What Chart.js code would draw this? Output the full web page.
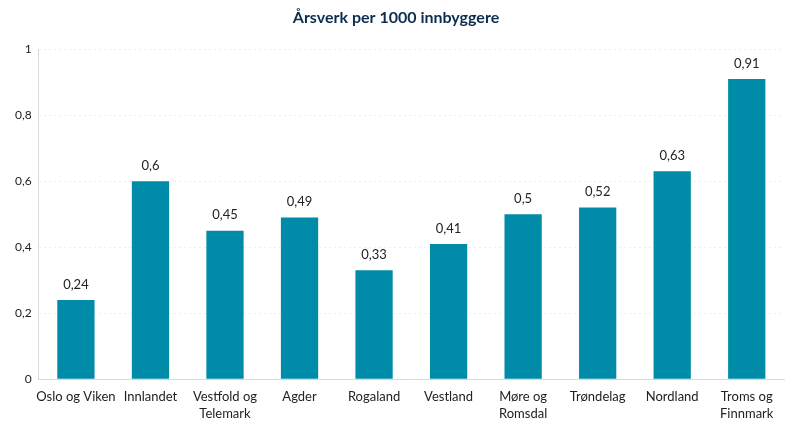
<!DOCTYPE html>
<html>
<head>
<meta charset="utf-8">
<script src="https://cdn.jsdelivr.net/npm/chart.js@4"></script>
<style>
  html, body { margin: 0; padding: 0; background: #fff; }
  #wrap { width: 800px; height: 428px; }
</style>
</head>
<body>
<div id="wrap"><canvas id="chart"></canvas></div>
<script>
// regioner og årsverk per 1000 innbyggere
const regioner = [
    "Oslo og Viken", "Innlandet", ["Vestfold og", "Telemark"], "Agder", "Rogaland",
    "Vestland", ["Møre og", "Romsdal"], "Trøndelag", "Nordland", ["Troms og", "Finnmark"]
];
const aarsverk = [0.24, 0.6, 0.45, 0.49, 0.33, 0.41, 0.5, 0.52, 0.63, 0.91];
const yTicks = [0, 0.2, 0.4, 0.6, 0.8, 1];

const komma = v => String(v).replace(".", ",");
const skrift = "Lato";

// verdier over søylene
const verdiEtiketter = {
    id: "verdiEtiketter",
    afterDatasetsDraw(chart) {
        const ctx = chart.ctx;
        const meta = chart.getDatasetMeta(0);
        ctx.save();
        ctx.font = "13px " + skrift;
        ctx.fillStyle = "#222";
        ctx.textAlign = "center";
        ctx.textBaseline = "bottom";
        meta.data.forEach((bar, i) => {
            ctx.fillText(komma(aarsverk[i]), bar.x, bar.y - 9);
        });
        ctx.restore();
    }
};

new Chart(document.querySelector("#chart"), {
    type: "bar",
    data: {
        labels: regioner,
        datasets: [{
            label: "Årsverk",
            data: aarsverk,
            backgroundColor: "#008ca8",
            categoryPercentage: 1,
            barPercentage: 0.5
        }]
    },
    options: {
        responsive: true,
        maintainAspectRatio: false,
        animation: false,
        layout: { padding: { left: 8, right: 16, top: 6, bottom: 5 } },
        plugins: {
            legend: { display: false },
            tooltip: { enabled: false },
            title: {
                display: true,
                text: "Årsverk per 1000 innbyggere",
                color: "#0d2d4f",
                font: { family: skrift, size: 16, weight: "bold" },
                padding: { top: 2, bottom: 22 }
            }
        },
        scales: {
            x: {
                grid: { display: false },
                border: { color: "#d9d9d9", width: 1 },
                ticks: {
                    color: "#222",
                    font: { family: skrift, size: 13, lineHeight: 1.3 },
                    maxRotation: 0,
                    autoSkip: false,
                    padding: 1
                }
            },
            y: {
                min: 0,
                max: 1,
                afterBuildTicks: axis => { axis.ticks = yTicks.map(v => ({ value: v })); },
                grid: { color: "#eeeeee", drawTicks: false },
                border: { color: "#d9d9d9", dash: [2, 3] },
                ticks: {
                    color: "#222",
                    font: { family: skrift, size: 12 },
                    padding: 7,
                    callback: v => komma(Math.round(v * 10) / 10)
                }
            }
        }
    },
    plugins: [verdiEtiketter]
});
</script>
</body>
</html>
